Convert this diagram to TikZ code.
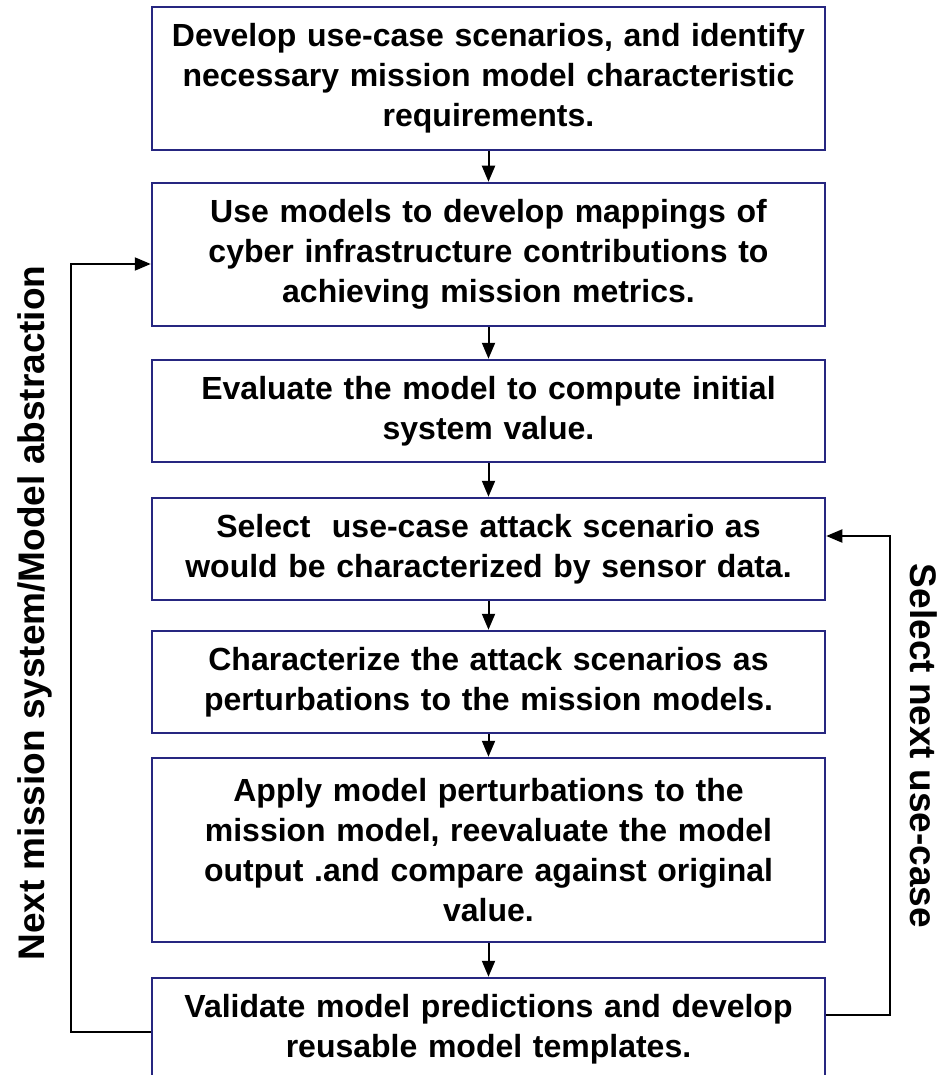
\documentclass[tikz,border=0pt]{standalone}
\usepackage{fontspec}
\setmainfont{Liberation Sans}
\usetikzlibrary{arrows.meta}
\definecolor{boxblue}{RGB}{38,38,128}
\begin{document}
\begin{tikzpicture}[x=1pt,y=-1pt,
  stepbox/.style={draw=boxblue, line width=2.5pt, minimum width=673pt, text width=660pt, align=center, inner sep=0pt, font=\bfseries\fontsize{32}{40}\selectfont},
  arr/.style={draw=black, line width=2pt, -{Triangle[length=16pt,width=13pt]}},
  side/.style={font=\bfseries\fontsize{37}{40}\selectfont, inner sep=0pt}]
\clip (0,0) rectangle (942,1075);
\fill[white] (0,0) rectangle (942,1075);
\node[stepbox, minimum height=143pt] (b1) at (488.5,78.5) {Develop use-case scenarios, and identify\\necessary mission model characteristic\\requirements.};
\node[stepbox, minimum height=143pt] (b2) at (488.5,254.5) {Use models to develop mappings of\\cyber infrastructure contributions to\\achieving mission metrics.};
\node[stepbox, minimum height=102pt] (b3) at (488.5,411) {Evaluate the model to compute initial\\system value.};
\node[stepbox, minimum height=102pt] (b4) at (488.5,549) {Select\ \ use-case attack scenario as\\would be characterized by sensor data.};
\node[stepbox, minimum height=102pt] (b5) at (488.5,682) {Characterize the attack scenarios as\\perturbations to the mission models.};
\node[stepbox, minimum height=184pt] (b6) at (488.5,850) {Apply model perturbations to the\\mission model, reevaluate the model\\output .and compare against original\\value.};
\node[stepbox, minimum height=102pt] (b7) at (488.5,1029) {Validate model predictions and develop\\reusable model templates.};
\draw[arr] (b1) -- (b2);
\draw[arr] (b2) -- (b3);
\draw[arr] (b3) -- (b4);
\draw[arr] (b4) -- (b5);
\draw[arr] (b5) -- (b6);
\draw[arr] (b6) -- (b7);
\draw[arr] ([yshift=-3pt]b7.west) -- ++(-80,0) |- ([yshift=-9.5pt]b2.west);
\draw[arr] ([yshift=14pt]b7.east) -- ++(64,0) |- ([yshift=13pt]b4.east);
\node[side, rotate=90, anchor=base] (lleft) at (44,613) {Next mission system/Model abstraction};
\node[side, rotate=-90, anchor=base] (lright) at (910,746) {Select next use-case};
\end{tikzpicture}
\end{document}
